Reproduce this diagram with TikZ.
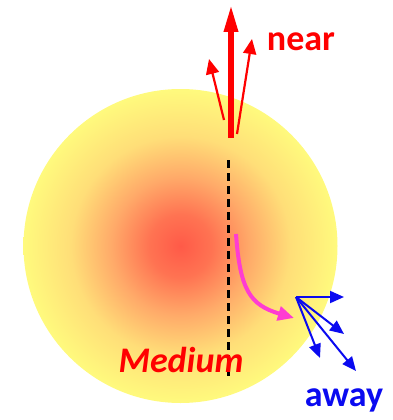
\documentclass[tikz,border=0pt]{standalone}
\usepackage{fontspec}
\setmainfont{Carlito}
\usetikzlibrary{arrows.meta}
\definecolor{c0}{RGB}{255,90,72}
\definecolor{c1}{RGB}{255,115,82}
\definecolor{c2}{RGB}{255,170,105}
\definecolor{c3}{RGB}{255,222,120}
\definecolor{c4}{RGB}{255,250,125}
\definecolor{nearred}{RGB}{255,0,0}
\definecolor{awayblue}{RGB}{10,10,240}
\definecolor{pinkarrow}{RGB}{255,60,210}
\pgfdeclareradialshading{ballshade}{\pgfpoint{0bp}{0bp}}{color(0bp)=(c0); color(5bp)=(c1); color(11bp)=(c2); color(17.5bp)=(c3); color(25bp)=(c4); color(50bp)=(c4)}
\tikzset{
  redthick/.style={draw=nearred, line width=6pt, -{Triangle[length=28pt,width=13pt]}},
  redthin/.style={draw=nearred, line width=2.2pt, -{Triangle[length=15pt,width=13pt]}},
  bluearr/.style={draw=awayblue, line width=2pt, -{Triangle[length=14pt,width=12pt]}},
  pinkarr/.style={draw=pinkarrow, line width=4pt, -{Triangle[length=16pt,width=14pt]}},
  lbl/.style={font=\fontsize{36}{40}\selectfont\bfseries, inner sep=0pt},
}
\begin{document}
\begin{tikzpicture}[x=1pt,y=-1pt]
\useasboundingbox (0,0) rectangle (393,420);
% medium ball
\shade[shading=ballshade] (180.5,246) circle[radius=157];
% dashed axis
\coordinate (dtop) at (228,160);
\coordinate (dbot) at (228,376);
\draw[black, line width=3pt, dash pattern=on 8pt off 5pt] (dtop) -- (dbot);
% red near arrows
\coordinate (r0) at (231,138);
\coordinate (r0t) at (231,4);
\coordinate (r1) at (224,120);
\coordinate (r1t) at (209,59);
\coordinate (r2) at (237,134);
\coordinate (r2t) at (252,39);
\draw[redthin] (r1) -- (r1t);
\draw[redthin] (r2) -- (r2t);
\draw[redthick] (r0) -- (r0t);
% pink curved arrow
\coordinate (p0) at (236,234);
\coordinate (p1) at (294,318);
\draw[pinkarr] (p0) .. controls (240,290) and (250,305) .. (p1);
% blue away arrows
\coordinate (b0) at (296,297);
\coordinate (b1) at (344,297);
\coordinate (b2) at (344,334);
\coordinate (b3) at (320,358);
\coordinate (b4) at (356,371);
\draw[bluearr] (b0) -- (b1);
\draw[bluearr] (b0) -- (b2);
\draw[bluearr] (b0) -- (b3);
\draw[bluearr] (b0) -- (b4);
% labels
\node[lbl, text=nearred] (near) at (301,42) {near};
\node[lbl, text=nearred, font=\fontsize{36}{40}\selectfont\bfseries\itshape] (medium) at (181,360) {Medium};
\node[lbl, text=awayblue] (away) at (344,400) {away};
\end{tikzpicture}
\end{document}
